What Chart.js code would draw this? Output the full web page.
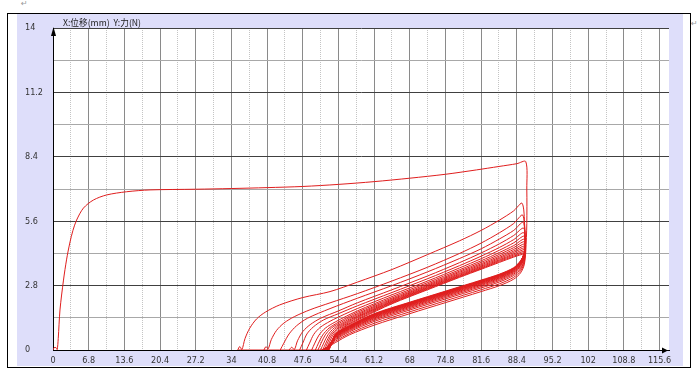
<!DOCTYPE html>
<html>
<head>
<meta charset="utf-8">
<script src="https://cdn.jsdelivr.net/npm/chart.js@4/dist/chart.umd.min.js"></script>
<style>
  body { margin: 0; background: #fff; width: 697px; height: 374px; position: relative; overflow: hidden; }
  #frame { position: absolute; left: 7px; top: 13px; width: 682px; height: 353px; border: 1px solid #000; background: #fff; }
  #chart { position: absolute; left: 9px; top: 0; }
  .mark { position: absolute; font: 8px "DejaVu Sans", sans-serif; color: #999; }
</style>
</head>
<body>
<span class="mark" style="left:21px;top:-1px">↵</span>
<span class="mark" style="left:691px;top:19px">↵</span>
<span class="mark" style="left:682px;top:357px">↵</span>
<div id="frame"><canvas id="chart" width="666" height="352"></canvas></div>
<script>
"use strict";

const TITLE = "X:位移(mm)  Y:力(N)";
const X_LABELS = ["0", "6.8", "13.6", "20.4", "27.2", "34", "40.8", "47.6", "54.4", "61.2", "68", "74.8", "81.6", "88.4", "95.2", "102", "108.8", "115.6"];
const Y_LABELS = ["0", "2.8", "5.6", "8.4", "11.2", "14"];

// displacement (mm), force (N) — one array per load/unload cycle
const CYCLE_01 = [[0,0],[0.2,0.1],[0.6,0.1],[0.8,0.02],[1.0,0.5],[1.33,1.74],[2.0,3.04],[2.6,3.95],[3.2,4.65],[3.8,5.2],[4.5,5.65],[5.8,6.17],[7.7,6.52],[10.2,6.74],[14,6.88],[18.5,6.96],[27.2,6.99],[34,7.02],[40.8,7.06],[47.6,7.11],[54.4,7.2],[61.2,7.32],[68,7.47],[74.8,7.64],[80.7,7.83],[85,7.98],[88.4,8.1],[90.1,8.19],
  [90.3,7.0],[90.3,5.5],[90.1,4.3],[89.8,3.7],[89.1,3.35],[87.8,3.08],[85.1,2.8],[81.6,2.54],[74.8,2.06],[68,1.58],[61.2,1.08],[56.5,0.66],[53.8,0.32],[52.0,0.08],[51.0,0],[35.3,0]];
const CYCLE_02 = [[35.2,0],[35.6,0.15],[36.0,0.02],[36.6,0.5],[37.5,0.95],[38.8,1.35],[40.5,1.65],[43.2,1.96],[47.6,2.28],[52.8,2.54],[58,2.95],[64.6,3.5],[71.4,4.15],[77.5,4.75],[81.6,5.2],[85.1,5.65],[87.8,6.05],[89.4,6.38],
  [89.9,5.4],[90.0,4.45],[89.8,3.8],[89.1,3.44],[87.8,3.16],[85.1,2.88],[81.6,2.62],[74.8,2.14],[68,1.66],[61.2,1.16],[56.5,0.72],[53.8,0.38],[52.2,0.12],[51.2,0]];
const CYCLE_03 = [[40.2,0],[40.6,0.15],[41.0,0.05],[41.6,0.45],[42.6,0.85],[44,1.17],[46,1.45],[49,1.75],[52.8,2.05],[58,2.45],[64.6,3.0],[71.4,3.6],[77.5,4.2],[81.6,4.65],[85.1,5.1],[87.8,5.5],[89.5,5.87],
  [89.9,5.0],[90.0,4.5],[89.8,3.88],[89.1,3.52],[87.8,3.24],[85.1,2.96],[81.6,2.7],[74.8,2.22],[68,1.74],[61.2,1.24],[56.5,0.79],[53.8,0.44],[52.4,0.16],[51.5,0]];
const CYCLE_04 = [[43.3,0],[44.0,0.3],[45.0,0.7],[46.4,1.05],[48.5,1.38],[52.8,1.8],[58,2.25],[64.6,2.8],[71.4,3.4],[77.5,3.98],[81.6,4.4],[85.1,4.83],[87.8,5.2],[89.6,5.55],
  [90.0,4.8],[90.0,4.45],[89.8,3.94],[89.1,3.58],[87.8,3.3],[85.1,3.02],[81.6,2.76],[74.8,2.28],[68,1.8],[61.2,1.3],[56.5,0.84],[53.8,0.48],[52.5,0.2],[51.7,0]];
const CYCLE_05 = [[45.0,0],[45.5,0.12],[46.0,0.02],[46.6,0.4],[47.6,0.8],[49,1.1],[51,1.38],[54.4,1.7],[58,2.05],[64.6,2.62],[71.4,3.22],[77.5,3.8],[81.6,4.22],[85.1,4.62],[87.8,4.98],[89.7,5.3],
  [90.0,4.65],[89.8,4.02],[89.1,3.65],[87.8,3.35],[85.1,3.07],[81.6,2.81],[74.8,2.33],[68,1.85],[61.2,1.35],[56.5,0.88],[53.8,0.52],[52.6,0.22],[51.8,0]];
const CYCLE_06 = [[47.0,0],[47.6,0.3],[48.4,0.7],[49.6,1.0],[51.5,1.3],[54.4,1.58],[58,1.92],[64.6,2.5],[71.4,3.1],[77.5,3.67],[81.6,4.08],[85.1,4.46],[87.8,4.8],[89.7,5.1],
  [90.0,4.55],[89.8,4.06],[89.1,3.69],[87.8,3.39],[85.1,3.11],[81.6,2.85],[74.8,2.37],[68,1.89],[61.2,1.39],[56.5,0.91],[53.8,0.55],[52.7,0.24],[51.9,0]];
const CYCLE_07 = [[48.3,0],[48.9,0.3],[49.7,0.68],[50.9,0.98],[52.8,1.25],[55.5,1.55],[58,1.8],[64.6,2.4],[71.4,3.0],[77.5,3.57],[81.6,3.97],[85.1,4.34],[87.8,4.66],[89.8,4.95],
  [90.0,4.5],[89.8,4.09],[89.1,3.72],[87.8,3.42],[85.1,3.14],[81.6,2.88],[74.8,2.4],[68,1.92],[61.2,1.42],[56.5,0.93],[53.8,0.57],[52.8,0.26],[52.0,0]];
const CYCLE_08 = [[49.3,0],[49.9,0.3],[50.7,0.65],[51.9,0.95],[53.8,1.22],[58,1.7],[64.6,2.32],[71.4,2.93],[77.5,3.49],[81.6,3.88],[85.1,4.24],[87.8,4.54],[89.8,4.82],
  [90.0,4.45],[89.8,4.12],[89.1,3.75],[87.8,3.45],[85.1,3.17],[81.6,2.91],[74.8,2.43],[68,1.95],[61.2,1.45],[56.5,0.96],[53.8,0.6],[52.9,0.28],[52.1,0]];
const CYCLE_09 = [[50.0,0],[50.6,0.3],[51.4,0.65],[52.6,0.95],[54.5,1.22],[58,1.64],[64.6,2.26],[71.4,2.87],[77.5,3.43],[81.6,3.81],[85.1,4.16],[87.8,4.45],[89.8,4.71],
  [90.0,4.4],[89.8,4.14],[89.1,3.77],[87.8,3.47],[85.1,3.19],[81.6,2.93],[74.8,2.45],[68,1.97],[61.2,1.47],[56.5,0.97],[53.8,0.61],[53.0,0.3],[52.2,0]];
const CYCLE_10 = [[50.5,0],[51.1,0.3],[51.9,0.66],[53.1,0.96],[55,1.22],[58,1.58],[64.6,2.21],[71.4,2.82],[77.5,3.38],[81.6,3.75],[85.1,4.09],[87.8,4.37],[89.9,4.62],
  [90.0,4.38],[89.8,4.16],[89.1,3.79],[87.8,3.49],[85.1,3.21],[81.6,2.95],[74.8,2.47],[68,1.99],[61.2,1.49],[56.5,0.99],[53.8,0.62],[53.0,0.31],[52.2,0]];
const CYCLE_11 = [[51.0,0],[51.6,0.3],[52.4,0.66],[53.6,0.96],[55.5,1.22],[58,1.53],[64.6,2.17],[71.4,2.78],[77.5,3.33],[81.6,3.7],[85.1,4.03],[87.8,4.3],[89.9,4.53],
  [90.0,4.35],[89.8,4.18],[89.1,3.81],[87.8,3.51],[85.1,3.23],[81.6,2.97],[74.8,2.49],[68,2.01],[61.2,1.51],[56.5,1.0],[53.8,0.64],[53.1,0.32],[52.3,0]];
const CYCLE_12 = [[51.4,0],[52.0,0.3],[52.8,0.66],[54.0,0.96],[55.9,1.22],[58,1.48],[64.6,2.13],[71.4,2.74],[77.5,3.29],[81.6,3.65],[85.1,3.98],[87.8,4.24],[89.9,4.45],
  [90.0,4.32],[89.8,4.2],[89.1,3.83],[87.8,3.53],[85.1,3.25],[81.6,2.99],[74.8,2.51],[68,2.03],[61.2,1.53],[56.5,1.02],[53.8,0.65],[53.1,0.33],[52.3,0]];
const CYCLE_13 = [[51.7,0],[52.3,0.3],[53.1,0.66],[54.3,0.95],[56.2,1.21],[58,1.44],[64.6,2.1],[71.4,2.71],[77.5,3.25],[81.6,3.61],[85.1,3.93],[87.8,4.18],[90.0,4.38],
  [89.8,4.21],[89.1,3.84],[87.8,3.54],[85.1,3.26],[81.6,3.0],[74.8,2.52],[68,2.04],[61.2,1.54],[56.5,1.03],[53.8,0.66],[53.2,0.34],[52.4,0]];
const CYCLE_14 = [[52.0,0],[52.6,0.3],[53.4,0.66],[54.6,0.95],[56.5,1.2],[58,1.4],[64.6,2.07],[71.4,2.68],[77.5,3.22],[81.6,3.57],[85.1,3.89],[87.8,4.13],[90.0,4.31],
  [89.8,4.2],[89.1,3.85],[87.8,3.55],[85.1,3.27],[81.6,3.01],[74.8,2.53],[68,2.05],[61.2,1.55],[56.5,1.04],[53.8,0.67],[53.2,0.34],[52.4,0]];
const CYCLE_15 = [[52.3,0],[52.9,0.3],[53.7,0.65],[54.9,0.94],[56.8,1.19],[58.5,1.4],[64.6,2.04],[71.4,2.65],[77.5,3.19],[81.6,3.54],[85.1,3.85],[87.8,4.08],[90.0,4.25],
  [89.8,4.18],[89.1,3.86],[87.8,3.56],[85.1,3.28],[81.6,3.02],[74.8,2.54],[68,2.06],[61.2,1.56],[56.5,1.05],[53.8,0.68],[53.3,0.35],[52.5,0]];
const CYCLE_16 = [[52.6,0],[53.2,0.3],[54.0,0.65],[55.2,0.94],[57.1,1.19],[58.8,1.39],[64.6,2.01],[71.4,2.62],[77.5,3.16],[81.6,3.51],[85.1,3.81],[87.8,4.04],[90.0,4.19],
  [89.8,4.12],[89.1,3.88],[87.8,3.58],[85.1,3.3],[81.6,3.04],[74.8,2.56],[68,2.08],[61.2,1.58],[56.5,1.07],[53.8,0.7],[53.3,0.36],[52.5,0]];

const CYCLES = [CYCLE_01, CYCLE_02, CYCLE_03, CYCLE_04, CYCLE_05, CYCLE_06, CYCLE_07, CYCLE_08,
  CYCLE_09, CYCLE_10, CYCLE_11, CYCLE_12, CYCLE_13, CYCLE_14, CYCLE_15, CYCLE_16];

const X_MAX = 117.4;
const LINE_COLOR = "#e01e1e";
const TICK_FONT = { family: '"Liberation Sans Narrow", "DejaVu Sans Condensed", "Liberation Sans", sans-serif', size: 9 };

// grid every half step, labels on every other line
const xGrid = [];
X_LABELS.forEach((l, i) => {
  xGrid.push(parseFloat(l));
  if (i < X_LABELS.length - 1) xGrid.push((parseFloat(l) + parseFloat(X_LABELS[i + 1])) / 2);
});
const yGrid = [];
Y_LABELS.forEach((l, i) => {
  yGrid.push(parseFloat(l));
  if (i < Y_LABELS.length - 1) yGrid.push((parseFloat(l) + parseFloat(Y_LABELS[i + 1])) / 2);
});

const panel = {
  id: "panel",
  beforeDraw(chart) {
    const { ctx, chartArea: a } = chart;
    ctx.save();
    ctx.fillStyle = "#dedefa";
    ctx.fillRect(0, 0, chart.width, chart.height);
    ctx.fillStyle = "#fff";
    ctx.fillRect(a.left, a.top, a.right - a.left, a.bottom - a.top);
    ctx.restore();
  },
  afterDraw(chart) {
    const { ctx, chartArea: a } = chart;
    ctx.save();
    // axis arrows
    ctx.fillStyle = "#000";
    ctx.beginPath();
    ctx.moveTo(a.left + 0.5, a.top - 1);
    ctx.lineTo(a.left - 2, a.top + 8);
    ctx.lineTo(a.left + 3, a.top + 8);
    ctx.closePath();
    ctx.fill();
    ctx.beginPath();
    ctx.moveTo(a.right - 1, a.bottom + 0.5);
    ctx.lineTo(a.right - 7, a.bottom - 2.5);
    ctx.lineTo(a.right - 7, a.bottom + 3.5);
    ctx.closePath();
    ctx.fill();
    // title
    ctx.font = '9px "Noto Sans CJK SC", sans-serif';
    ctx.fillStyle = "#222";
    ctx.textBaseline = "middle";
    const w = ctx.measureText(TITLE).width;
    ctx.translate(a.left + 10, a.top - 5);
    ctx.scale(78 / w, 1);
    ctx.fillText(TITLE, 0, 0);
    ctx.restore();
  },
};

new Chart(document.getElementById("chart"), {
  type: "scatter",
  data: {
    datasets: CYCLES.map((c) => ({
      data: c.map(([x, y]) => ({ x, y })),
      showLine: true,
      borderColor: LINE_COLOR,
      borderWidth: 1,
      pointRadius: 0,
      tension: 0.3,
      fill: false,
    })),
  },
  options: {
    responsive: false,
    animation: false,
    devicePixelRatio: 1,
    layout: { padding: { left: 8, top: 14, right: 14, bottom: 0 } },
    plugins: { legend: { display: false }, tooltip: { enabled: false } },
    scales: {
      x: {
        type: "linear",
        min: 0,
        max: X_MAX,
        afterBuildTicks: (s) => { s.ticks = xGrid.map((v) => ({ value: v })); },
        afterFit: (s) => { s.height = 16; },
        ticks: {
          autoSkip: false, maxRotation: 0, padding: 5, color: "#333", font: TICK_FONT,
          callback: (v, i) => (i % 2 === 0 ? X_LABELS[i / 2] : ""),
        },
        grid: { drawTicks: false, lineWidth: 1, color: (c) => (c.index % 2 ? "#c4c4c4" : "#8a8a8a") },
        border: { color: "#000", width: 1, dash: (c) => (c.index !== undefined && c.index % 2 ? [1, 1] : []) },
      },
      y: {
        type: "linear",
        min: 0,
        max: 14,
        afterBuildTicks: (s) => { s.ticks = yGrid.map((v) => ({ value: v })); },
        afterFit: (s) => { s.width = 28; },
        ticks: {
          autoSkip: false, padding: 0, crossAlign: "far", color: "#333", font: TICK_FONT,
          callback: (v, i) => (i % 2 === 0 ? Y_LABELS[i / 2] : ""),
        },
        grid: { drawTicks: false, lineWidth: 1, color: (c) => (c.index % 2 ? "#a8a8a8" : "#404040") },
        border: { color: "#000", width: 1 },
      },
    },
  },
  plugins: [panel],
});
</script>
</body>
</html>
